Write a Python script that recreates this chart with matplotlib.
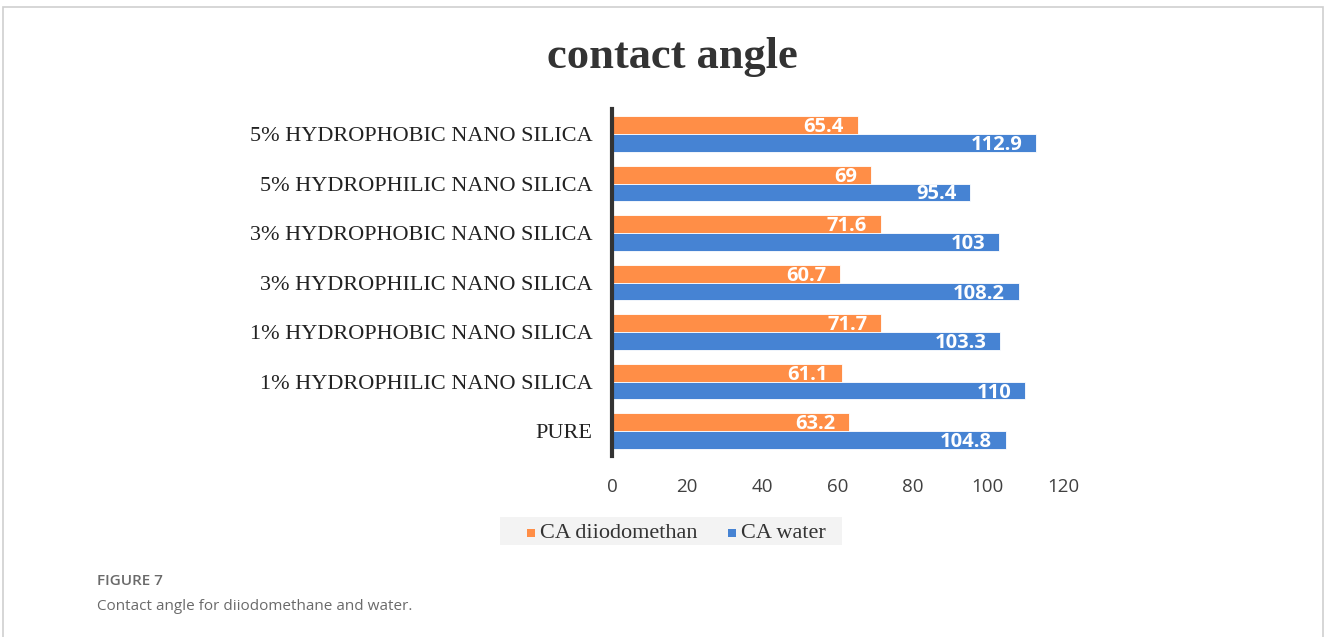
import matplotlib.pyplot as plt
import numpy as np
from matplotlib.patches import Rectangle

categories = ['PURE', '1% HYDROPHILIC NANO SILICA', '1% HYDROPHOBIC NANO SILICA',
              '3% HYDROPHILIC NANO SILICA', '3% HYDROPHOBIC NANO SILICA',
              '5% HYDROPHILIC NANO SILICA', '5% HYDROPHOBIC NANO SILICA']
ca_diiodomethan = [63.2, 61.1, 71.7, 60.7, 71.6, 69, 65.4]
ca_water = [104.8, 110, 103.3, 108.2, 103, 95.4, 112.9]
x_ticks = [0, 20, 40, 60, 80, 100, 120]

ORANGE = '#FF8E47'
BLUE = '#4683D3'

fig = plt.figure(figsize=(13.28, 6.37), dpi=100)
fig.patches.append(Rectangle((0.0025, -0.01), 0.994, 1 - 7 / 637 + 0.01,
                             transform=fig.transFigure, fill=False,
                             edgecolor='#cfcfcf', linewidth=1.2))

ax = fig.add_axes([0.4608, 0.2845, 0.3396, 0.544])
y = np.arange(len(categories))
h = 0.36
bars_o = ax.barh(y + h / 2, ca_diiodomethan, height=h, color=ORANGE,
                 edgecolor='white', linewidth=0.6)
bars_b = ax.barh(y - h / 2, ca_water, height=h, color=BLUE,
                 edgecolor='white', linewidth=0.6)

for bars, vals in [(bars_o, ca_diiodomethan), (bars_b, ca_water)]:
    for b, v in zip(bars, vals):
        ax.annotate(f'{v:g}', (b.get_width(), b.get_y() + b.get_height() / 2),
                    xytext=(-10, -1.5), textcoords='offset points',
                    ha='right', va='center', color='white',
                    fontsize=14.5, fontweight='bold', family='Open Sans')

ax.set_xlim(0, 120)
ax.set_ylim(-0.5, 6.5)
ax.set_xticks(x_ticks)
ax.set_xticklabels([str(t) for t in x_ticks], family='Open Sans',
                   fontsize=13.5, color='#404040')
ax.set_yticks(y)
ax.set_yticklabels(categories, family='Liberation Serif', fontsize=16,
                   color='#222222')
ax.tick_params(length=0, axis='x', pad=16)
ax.tick_params(length=0, axis='y', pad=14)
for s in ['top', 'right', 'bottom']:
    ax.spines[s].set_visible(False)
ax.spines['left'].set_linewidth(3)
ax.spines['left'].set_color('#333333')

fig.text(0.506, 1 - 57 / 637, 'contact angle', ha='center', va='center',
         family='Liberation Serif', fontweight='bold', fontsize=32,
         color='#333333')

# legend box
fig.patches.append(Rectangle((500 / 1328, 1 - 545 / 637), 342 / 1328, 28 / 637,
                             transform=fig.transFigure, facecolor='#f3f3f3',
                             edgecolor='none'))
leg_y = 1 - 533 / 637
fig.patches.append(Rectangle((527 / 1328, leg_y - 4 / 637), 8 / 1328, 8 / 637,
                             transform=fig.transFigure, facecolor=ORANGE))
fig.text(540 / 1328, leg_y, 'CA diiodomethan', va='center',
         family='Liberation Serif', fontsize=16, color='#333333')
fig.patches.append(Rectangle((728 / 1328, leg_y - 4 / 637), 8 / 1328, 8 / 637,
                             transform=fig.transFigure, facecolor=BLUE))
fig.text(741 / 1328, leg_y, 'CA water', va='center',
         family='Liberation Serif', fontsize=16, color='#333333')

fig.text(97 / 1328, 1 - 581 / 637, 'FIGURE 7', va='center',
         family='Open Sans', fontsize=11, fontweight='semibold', color='#6a6a6a')
fig.text(97 / 1328, 1 - 606 / 637, 'Contact angle for diiodomethane and water.',
         va='center', family='Open Sans', fontsize=11, color='#6a6a6a')

fig.savefig('out.png', dpi=100)
